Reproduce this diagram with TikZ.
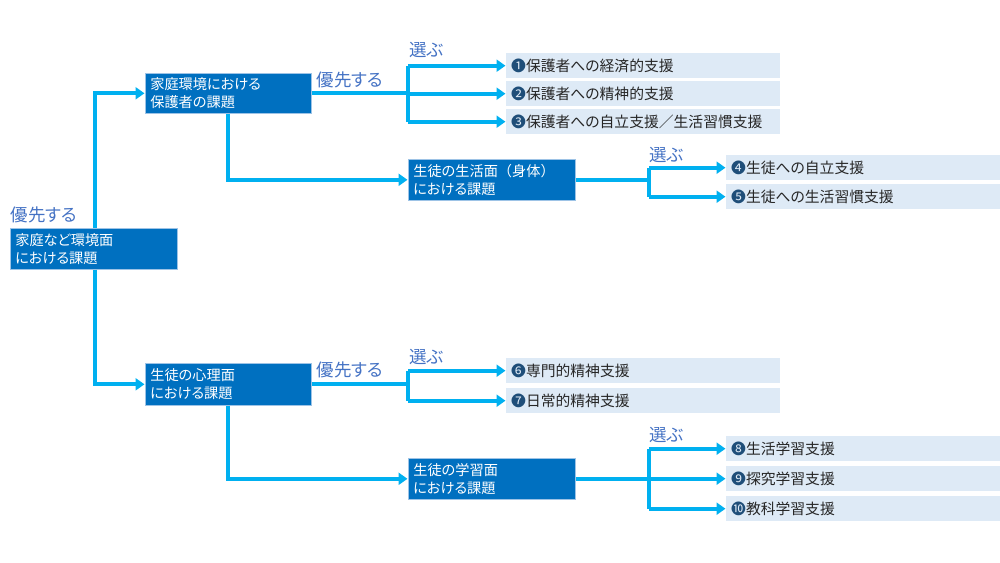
\documentclass[tikz,border=0pt]{standalone}
\usepackage{fontspec}
\setmainfont{Noto Sans CJK JP}[RawFeature=+palt]
\usetikzlibrary{arrows.meta}
\definecolor{conn}{HTML}{00B0F0}
\definecolor{boxblue}{HTML}{0070C0}
\definecolor{boxedge}{HTML}{9DC3E6}
\definecolor{leafc}{HTML}{DEEAF6}
\definecolor{lblc}{HTML}{4472C4}
\definecolor{numc}{HTML}{1F4E79}
\definecolor{leaftext}{HTML}{262626}
\newcommand{\nm}[1]{{\color{numc}#1}}
\newcommand{\fw}[1]{{\addfontfeature{RawFeature=-palt}#1}}
\tikzset{
  dark/.style={fill=boxblue, draw=boxedge, line width=0.6pt, text=white, anchor=north west,
    inner xsep=5pt, inner ysep=0pt, align=left, font=\fontsize{14.2}{18}\selectfont},
  leaf/.style={fill=leafc, anchor=north west, minimum width=274pt, text width=264pt,
    minimum height=25pt, inner xsep=5pt, inner ysep=0pt, align=left, text=leaftext,
    font=\fontsize{14.8}{16}\selectfont},
  lbl/.style={text=lblc, inner sep=0pt, font=\fontsize{17.5}{18}\selectfont},
  line/.style={draw=conn, line width=4pt},
  arr/.style={line, -{Triangle[length=9pt,width=12pt]}, shorten >=0.5pt},
}
\begin{document}
\begin{tikzpicture}[x=1pt,y=-1pt]
\useasboundingbox (0,0) rectangle (1000,562);
% dark boxes
\node[dark, minimum width=167pt, text width=157pt, minimum height=41pt] (root) at (10,228) {家庭など環境面\\における課題};
\node[dark, minimum width=166pt, text width=156pt, minimum height=40pt] (b1) at (145,73) {家庭環境における\\保護者の課題};
\node[dark, minimum width=167pt, text width=157pt, minimum height=41pt] (b2) at (408,159) {生徒の生活面\fw{（}身体\fw{）}\\における課題};
\node[dark, minimum width=166pt, text width=156pt, minimum height=42pt] (b3) at (145,363) {生徒の心理面\\における課題};
\node[dark, minimum width=167pt, text width=157pt, minimum height=41pt] (b4) at (408,458) {生徒の学習面\\における課題};
% leaf boxes
\node[leaf] (l1) at (506,53) {\nm{❶}保護者への経済的支援};
\node[leaf] (l2) at (506,81) {\nm{❷}保護者への精神的支援};
\node[leaf] (l3) at (506,109) {\nm{❸}保護者への自立支援／生活習慣支援};
\node[leaf] (l4) at (726,155) {\nm{❹}生徒への自立支援};
\node[leaf] (l5) at (726,184) {\nm{❺}生徒への生活習慣支援};
\node[leaf] (l6) at (506,358) {\nm{❻}専門的精神支援};
\node[leaf] (l7) at (506,388) {\nm{❼}日常的精神支援};
\node[leaf] (l8) at (726,436) {\nm{❽}生活学習支援};
\node[leaf] (l9) at (726,466) {\nm{❾}探究学習支援};
\node[leaf] (l10) at (726,496) {\nm{❿}教科学習支援};
% labels
\node[lbl] (p0) at (44,215) {優先する};
\node[lbl] (p1) at (350,80) {優先する};
\node[lbl] (p2) at (350,370) {優先する};
\node[lbl] (s1) at (427,50) {選ぶ};
\node[lbl] (s2) at (667,155) {選ぶ};
\node[lbl] (s3) at (427,357) {選ぶ};
\node[lbl] (s4) at (667,435) {選ぶ};
% junction coordinates
\coordinate (x0) at (95,0);
\coordinate (x1) at (228,0);
\coordinate (x2) at (408,0);
\coordinate (x3) at (649,0);
% root connectors
\draw[arr] (x0 |- root.north) |- (b1.west);
\draw[arr] (x0 |- root.south) |- (b3.west);
% b1
\draw[line] (b1.east) -- (x2 |- b1.east);
\draw[line] (x2 |- l1.west) -- (x2 |- l3.west);
\draw[arr] (x2 |- l1.west) -- (l1.west);
\draw[arr] (x2 |- l2.west) -- (l2.west);
\draw[arr] (x2 |- l3.west) -- (l3.west);
\draw[arr] (x1 |- b1.south) |- (b2.west);
% b2
\draw[line] (b2.east) -- (x3 |- b2.east);
\draw[line] (x3 |- l4.west) -- (x3 |- l5.west);
\draw[arr] (x3 |- l4.west) -- (l4.west);
\draw[arr] (x3 |- l5.west) -- (l5.west);
% b3
\draw[line] (b3.east) -- (x2 |- b3.east);
\draw[line] (x2 |- l6.west) -- (x2 |- l7.west);
\draw[arr] (x2 |- l6.west) -- (l6.west);
\draw[arr] (x2 |- l7.west) -- (l7.west);
\draw[arr] (x1 |- b3.south) |- (b4.west);
% b4
\draw[line] (b4.east) -- (x3 |- b4.east);
\draw[line] (x3 |- l8.west) -- (x3 |- l10.west);
\draw[arr] (x3 |- l8.west) -- (l8.west);
\draw[arr] (x3 |- l9.west) -- (l9.west);
\draw[arr] (x3 |- l10.west) -- (l10.west);
\end{tikzpicture}
\end{document}
